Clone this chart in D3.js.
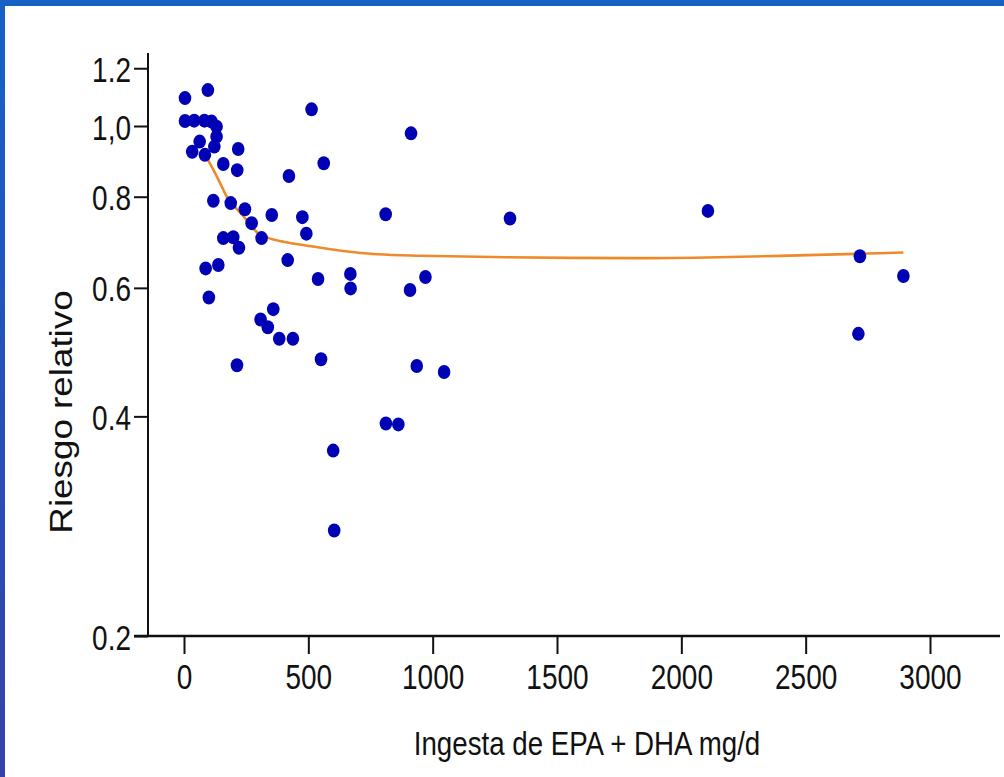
<!DOCTYPE html>
<html>
<head>
<meta charset="utf-8">
<script src="https://cdn.jsdelivr.net/npm/d3@7"></script>
<style>
  html, body { margin: 0; padding: 0; background: #fff; }
  svg { display: block; }
  .tick text { font-family: "Liberation Sans", Arial, sans-serif; }
</style>
</head>
<body>
<div id="chart"></div>
<script>
// data
var intake = [4, 96, 513, 913, 4, 41, 82, 111, 131, 131, 63, 122, 33, 84, 218, 158, 214, 562, 422,
    118, 188, 245, 272, 353, 476, 492, 811, 1311, 2107, 312, 158, 198, 221, 87, 138, 417, 2718,
    539, 669, 670, 909, 971, 2893, 100, 359, 308, 337, 383, 438, 213, 551, 936, 1046, 2712, 812, 862, 600, 604];
var riesgo = [1.092, 1.12, 1.054, 0.977, 1.016, 1.017, 1.017, 1.014, 0.998, 0.967, 0.952, 0.937, 0.922, 0.913, 0.930, 0.887, 0.870, 0.889, 0.854,
    0.790, 0.784, 0.769, 0.736, 0.755, 0.750, 0.712, 0.757, 0.747, 0.765, 0.702, 0.702, 0.704, 0.681, 0.638, 0.645, 0.655, 0.663,
    0.617, 0.627, 0.599, 0.596, 0.621, 0.623, 0.582, 0.561, 0.543, 0.530, 0.511, 0.511, 0.470, 0.479, 0.469, 0.460, 0.519, 0.391, 0.390, 0.359, 0.279];

// fitted curve
var curveX = [97, 125, 152, 178, 212, 245, 272, 300, 340, 400, 490, 640, 780, 950, 1300, 1800, 2150, 2700, 2893];
var curveY = [0.898, 0.862, 0.826, 0.794, 0.770, 0.748, 0.728, 0.712, 0.702, 0.694, 0.686, 0.674, 0.667, 0.664, 0.661, 0.659, 0.661, 0.668, 0.671];

var xTicks = [0, 500, 1000, 1500, 2000, 2500, 3000];
var yTicks = [1.2, 1.0, 0.8, 0.6, 0.4, 0.2];
var yTickLabels = ["1.2", "1,0", "0.8", "0.6", "0.4", "0.2"];

var W = 1004, H = 777;

var svg = d3.select("#chart").append("svg")
    .attr("width", W)
    .attr("height", H);

// slide frame
var defs = svg.append("defs");
var grad = defs.append("linearGradient")
    .attr("id", "sideGrad")
    .attr("x1", 0).attr("y1", 0).attr("x2", 0).attr("y2", 1);
grad.append("stop").attr("offset", "0%").attr("stop-color", "#1761c4");
grad.append("stop").attr("offset", "100%").attr("stop-color", "#3641ab");

svg.append("rect").attr("x", 0).attr("y", 0).attr("width", W).attr("height", H).attr("fill", "#fff");
svg.append("rect").attr("x", 0).attr("y", 0).attr("width", W).attr("height", 6).attr("fill", "#1761c4");
svg.append("rect").attr("x", 0).attr("y", 0).attr("width", 5).attr("height", H).attr("fill", "url(#sideGrad)");

// scales
var xScale = d3.scaleLinear().domain([0, 3000]).range([184, 930]);
var yScale = d3.scaleLog().domain([0.2, 1]).range([636, 126]);

// axes
var xAxis = d3.axisBottom(xScale)
    .tickValues(xTicks)
    .tickSize(18)
    .tickFormat(d3.format("d"));

var yAxis = d3.axisLeft(yScale)
    .tickValues(yTicks)
    .tickSize(14)
    .tickFormat((d, i) => yTickLabels[i]);

var gx = svg.append("g")
    .attr("transform", "translate(0,636)")
    .call(xAxis);
gx.select(".domain").remove();
gx.selectAll(".tick line").attr("stroke", "#111").attr("stroke-width", 2);
// tall, narrow-looking digits like the slide
gx.selectAll(".tick text")
    .attr("font-size", "28px")
    .attr("fill", "#111")
    .attr("y", 0).attr("dy", 0)
    .attr("transform", "translate(0,53) scale(1,1.24)");

var gy = svg.append("g")
    .attr("transform", "translate(148,0)")
    .call(yAxis);
gy.select(".domain").remove();
gy.selectAll(".tick line").attr("stroke", "#111").attr("stroke-width", 2);
gy.selectAll(".tick text")
    .attr("font-size", "28px")
    .attr("fill", "#111")
    .attr("x", 0).attr("dy", 0)
    .attr("transform", "translate(-17,13) scale(1,1.24)");

// axis lines
svg.append("line")
    .attr("x1", 148).attr("x2", 148)
    .attr("y1", 53).attr("y2", 636)
    .attr("stroke", "#111").attr("stroke-width", 2);
svg.append("line")
    .attr("x1", 134).attr("x2", 1000)
    .attr("y1", 636).attr("y2", 636)
    .attr("stroke", "#111").attr("stroke-width", 2.6);

// fitted curve
var curvePts = curveX.map((d, i) => [d, curveY[i]]);
var line = d3.line()
    .x(d => xScale(d[0]))
    .y(d => yScale(d[1]))
    .curve(d3.curveCatmullRom.alpha(0.5));

svg.append("path")
    .datum(curvePts)
    .attr("d", line)
    .attr("fill", "none")
    .attr("stroke", "#ef8a2a")
    .attr("stroke-width", 2.6);

// points
var pts = intake.map((d, i) => ({x: d, y: riesgo[i]}));
svg.selectAll("ellipse.pt")
    .data(pts)
    .enter()
    .append("ellipse")
    .attr("class", "pt")
    .attr("cx", d => xScale(d.x))
    .attr("cy", d => yScale(d.y))
    .attr("rx", 6.3)
    .attr("ry", 7)
    .attr("fill", "#0000b4");

// axis titles
svg.append("text")
    .attr("transform", "translate(587,755) scale(1,1.22)")
    .attr("text-anchor", "middle")
    .attr("font-family", "'Liberation Sans', Arial, sans-serif")
    .attr("font-size", "27.7px")
    .attr("fill", "#111")
    .text("Ingesta de EPA + DHA mg/d");

svg.append("text")
    .attr("transform", "translate(72,412) rotate(-90) scale(1.15,1)")
    .attr("text-anchor", "middle")
    .attr("font-family", "'Liberation Sans', Arial, sans-serif")
    .attr("font-size", "32px")
    .attr("fill", "#111")
    .text("Riesgo relativo");
</script>
</body>
</html>
